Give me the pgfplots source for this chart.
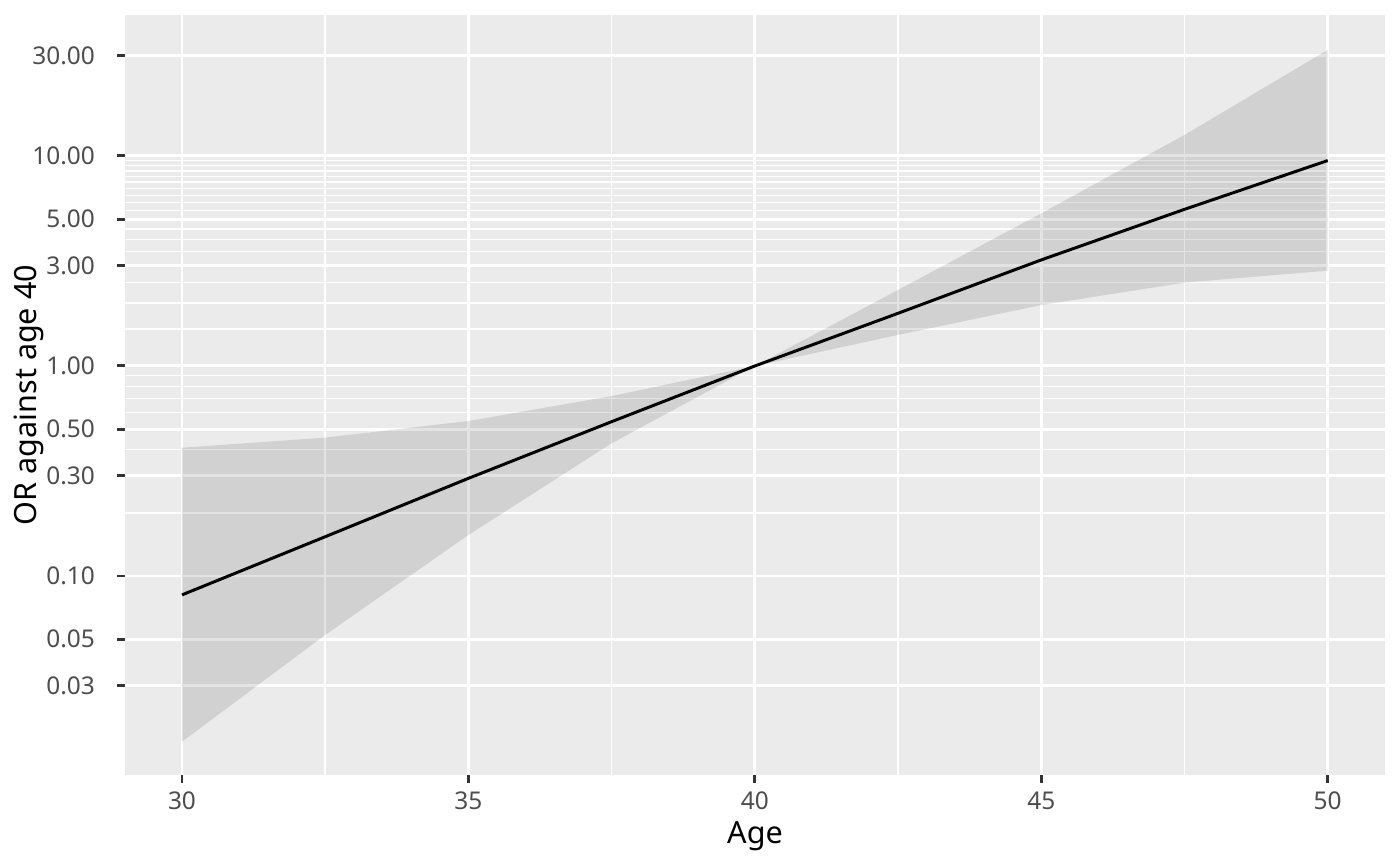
\documentclass[border=0pt]{standalone}
\usepackage{pgfplots}
\pgfplotsset{compat=1.18}
\usepackage{fontspec}
\setmainfont{Noto Sans}
\definecolor{grey92}{HTML}{EBEBEB}
\definecolor{grey30}{HTML}{4D4D4D}
\definecolor{grey20}{HTML}{333333}
\begin{document}
\begin{tikzpicture}
\useasboundingbox (0,0) rectangle (504pt,311.76pt);
\begin{axis}[
  at={(45pt,32.76pt)}, anchor=south west,
  scale only axis, width=453.6pt, height=273.6pt,
  xmin=29.005, xmax=51.0,
  ymode=log, ymin=0.01128, ymax=46.9,
  axis background/.style={fill=grey92},
  axis line style={draw=none},
  xtick={30,35,40,45,50},
  xticklabels={30,35,40,45,50},
  minor xtick={32.5,37.5,42.5,47.5},
  ytick={0.03,0.05,0.1,0.3,0.5,1,3,5,10,30},
  yticklabels={0.03,0.05,0.10,0.30,0.50,1.00,3.00,5.00,10.00,30.00},
  minor ytick={0.2,0.4,0.6,0.7,0.8,0.9,1.5,2,2.5,3.5,4,4.5,5.5,6,6.5,7,7.5,8,8.5,9,9.5},
  grid=both,
  major grid style={draw=white, line width=1.07pt},
  minor grid style={draw=white, line width=0.53pt},
  tick align=outside, tick pos=left,
  major tick length=2.75pt, minor tick length=0pt,
  major tick style={draw=grey20, line width=1.07pt},
  minor tick style={draw=none},
  ticklabel style={font=\fontsize{8.8}{10.5}\selectfont, text=grey30},
  yticklabel style={anchor=east, xshift=-4.6pt},
  xticklabel style={anchor=north, yshift=0.3pt},
  xlabel={Age}, ylabel={OR against age 40},
  label style={font=\fontsize{11}{13}\selectfont, text=black},
  xlabel style={yshift=2.7pt},
  ylabel style={yshift=-11pt},
]
\addplot[draw=none, fill=black, fill opacity=0.11] coordinates {
  (30,0.408) (32.5,0.456) (35,0.547) (37.5,0.719) (40,1) (42.5,2.301) (45,5.33) (47.5,12.59) (50,32.0)
  (50,2.844) (47.5,2.495) (45,1.950) (42.5,1.406) (40,1) (37.5,0.4285) (35,0.1567) (32.5,0.0524) (30,0.01626)
} -- cycle;
\addplot[black, line width=1.07pt] coordinates {
  (30,0.0813) (32.5,0.1538) (35,0.2917) (37.5,0.543) (40,1) (42.5,1.782) (45,3.20) (47.5,5.57) (50,9.51)
};
\end{axis}
\end{tikzpicture}
\end{document}
